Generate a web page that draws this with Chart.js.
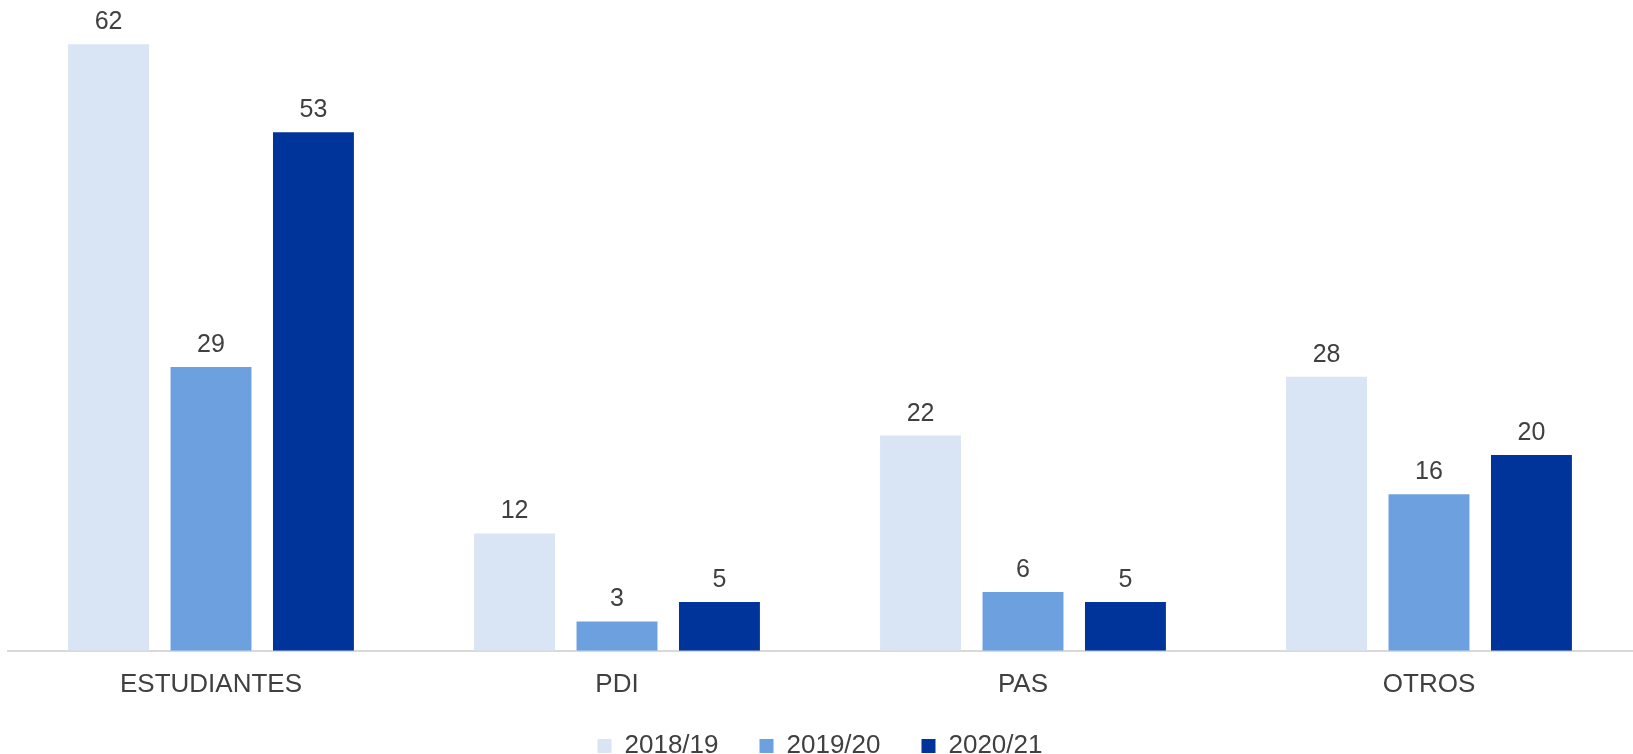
<!DOCTYPE html>
<html><head><meta charset="utf-8">
<script src="https://cdn.jsdelivr.net/npm/chart.js@4"></script>
<style>html,body{margin:0;padding:0;background:#fff}#wrap{width:1633px;height:754px}</style>
</head><body><div id="wrap"><canvas id="c" width="1633" height="754"></canvas></div>
<script>
const categories = ["ESTUDIANTES", "PDI", "PAS", "OTROS"];
const seriesNames = ["2018/19", "2019/20", "2020/21"];
const values2018 = [62, 12, 22, 28];
const values2019 = [29, 3, 6, 16];
const values2020 = [53, 5, 5, 20];
const colors = ["#D9E4F5", "#6CA0DF", "#00349A"];
const FONT = "'Liberation Sans', Arial, sans-serif";
const TEXT = "#404040";
const LEGEND_SHIFT = -26;

const valueLabels = {
  id: 'valueLabels',
  afterInit(chart) {
    const lg = chart.legend;
    if (lg) {
      const orig = lg.draw;
      lg.draw = function (...args) {
        const c = this.ctx;
        c.save();
        c.translate(0, LEGEND_SHIFT);
        orig.apply(this, args);
        c.restore();
      };
    }
  },
  afterDatasetsDraw(chart) {
    const ctx = chart.ctx;
    ctx.save();
    ctx.font = "25px " + FONT;
    ctx.fillStyle = TEXT;
    ctx.textAlign = 'center';
    ctx.textBaseline = 'alphabetic';
    chart.data.datasets.forEach((ds, di) => {
      const meta = chart.getDatasetMeta(di);
      meta.data.forEach((bar, i) => {
        ctx.fillText(String(ds.data[i]), bar.x, bar.y - 15);
      });
    });
    ctx.restore();
  }
};

new Chart(document.getElementById('c'), {
  type: 'bar',
  data: {
    labels: categories,
    datasets: [
      {label: seriesNames[0], data: values2018, backgroundColor: colors[0]},
      {label: seriesNames[1], data: values2019, backgroundColor: colors[1]},
      {label: seriesNames[2], data: values2020, backgroundColor: colors[2]}
    ]
  },
  options: {
    responsive: false,
    animation: false,
    devicePixelRatio: 1,
    categoryPercentage: 0.757,
    barPercentage: 0.79,
    layout: {padding: {left: 8, right: 1, top: 5, bottom: -41}},
    scales: {
      x: {
        grid: {display: false, drawTicks: false},
        border: {display: true, color: '#D9D9D9', width: 2},
        ticks: {color: TEXT, font: {size: 26, family: FONT}, padding: 18}
      },
      y: {
        display: false,
        min: 0, max: 66
      }
    },
    plugins: {
      legend: {
        position: 'bottom',
        labels: {
          color: TEXT,
          font: {size: 26, family: FONT},
          boxWidth: 14, boxHeight: 14,
          padding: 41
        }
      },
      tooltip: {enabled: false}
    }
  },
  plugins: [valueLabels]
});
</script></body></html>
